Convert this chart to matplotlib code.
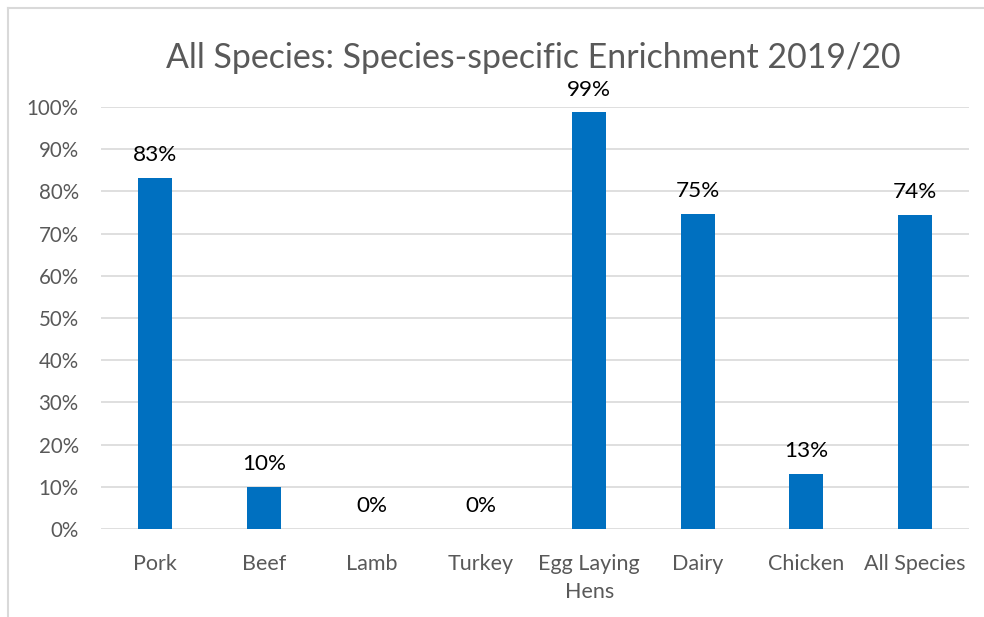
import matplotlib.pyplot as plt
from matplotlib.lines import Line2D
from matplotlib.ticker import PercentFormatter

plt.rcParams['font.family'] = ['Lato', 'DejaVu Sans']

# data
categories = ['Pork', 'Beef', 'Lamb', 'Turkey', 'Egg Laying\nHens', 'Dairy', 'Chicken', 'All Species']
values = [0.831, 0.100, 0.0, 0.0, 0.987, 0.747, 0.131, 0.744]
labels = ['83%', '10%', '0%', '0%', '99%', '75%', '13%', '74%']

bar_color = '#0070C0'
grid_color = '#D9D9D9'
text_gray = '#595959'

fig = plt.figure(figsize=(9.84, 6.17), dpi=100)
ax = fig.add_axes([0.1026, 0.1426, 0.8822, 0.684])

x = list(range(len(categories)))
ax.bar(x, values, width=0.31, color=bar_color, zorder=3)

for xi, v, lab in zip(x, values, labels):
    ax.annotate(lab, (xi, v), xytext=(0, 16.5), textcoords='offset points',
                ha='center', va='center', fontsize=16.2, color='black')

ax.set_xlim(-0.5, len(categories) - 0.5)
ax.set_ylim(0, 1)
ax.set_yticks([i / 10 for i in range(11)])
ax.yaxis.set_major_formatter(PercentFormatter(1.0, decimals=0))
ax.set_xticks(x)
ax.set_xticklabels(categories, fontsize=15.5, color=text_gray, linespacing=1.5)
ax.tick_params(axis='y', labelsize=14.8, colors=text_gray, length=0, pad=16)
ax.tick_params(axis='x', length=0, pad=18)
ax.grid(axis='y', color=grid_color, linewidth=1.2, zorder=0)
ax.set_axisbelow(True)
for s in ax.spines.values():
    s.set_visible(False)

fig.text(0.542, 0.906, 'All Species: Species-specific Enrichment 2019/20',
         ha='center', va='center', fontsize=24.4, color=text_gray)

# chart border (cut off on the right and bottom)
fig.add_artist(Line2D([8 / 984, 1.0], [1 - 8 / 617, 1 - 8 / 617], color=grid_color, linewidth=1.5))
fig.add_artist(Line2D([8 / 984, 8 / 984], [0.0, 1 - 8 / 617], color=grid_color, linewidth=1.5))

plt.savefig('out.png', dpi=100)
